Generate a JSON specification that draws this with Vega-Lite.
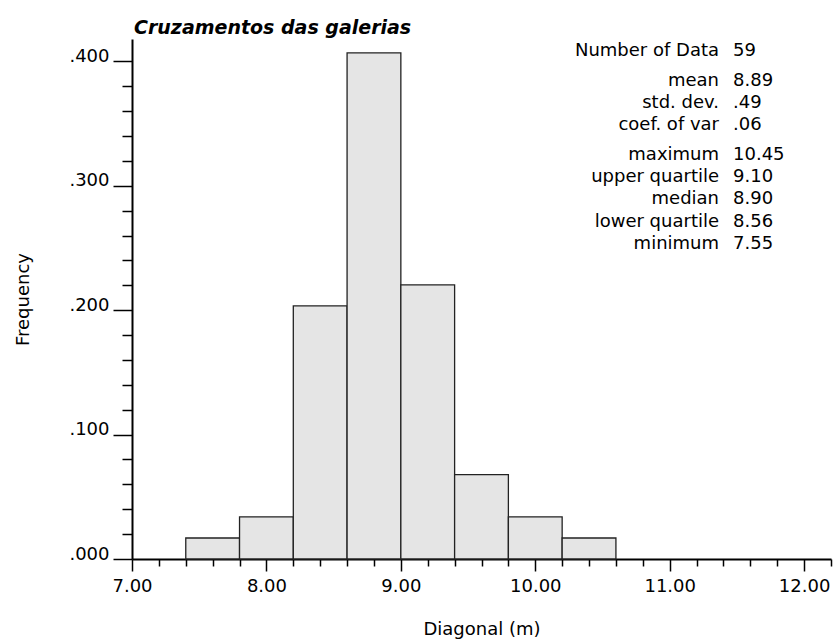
{
  "$schema": "https://vega.github.io/schema/vega-lite/v6.json",
  "autosize": "none",
  "width": 699,
  "height": 520,
  "padding": {"left": 132, "top": 39, "right": 2, "bottom": 81},
  "background": "white",
  "config": {
    "view": {"stroke": null},
    "font": "DejaVu Sans",
    "axis": {
      "grid": false,
      "domainColor": "black",
      "tickColor": "black",
      "labelColor": "black",
      "titleColor": "black",
      "labelFont": "DejaVu Sans",
      "titleFont": "DejaVu Sans",
      "labelFontSize": 18,
      "titleFontSize": 18,
      "titleFontWeight": "normal",
      "zindex": 1
    }
  },
  "title": {
    "text": "Cruzamentos das galerias",
    "anchor": "start",
    "frame": "group",
    "font": "DejaVu Sans",
    "fontSize": 19,
    "fontStyle": "italic",
    "fontWeight": "bold",
    "color": "black",
    "baseline": "alphabetic",
    "offset": 6,
    "dx": 2,
    "dy": 20
  },
  "datasets": {
    "bins": [
      {"bin_start": 7.4, "bin_end": 7.8, "frequency": 0.0169},
      {"bin_start": 7.8, "bin_end": 8.2, "frequency": 0.0339},
      {"bin_start": 8.2, "bin_end": 8.6, "frequency": 0.2034},
      {"bin_start": 8.6, "bin_end": 9.0, "frequency": 0.4068},
      {"bin_start": 9.0, "bin_end": 9.4, "frequency": 0.2203},
      {"bin_start": 9.4, "bin_end": 9.8, "frequency": 0.0678},
      {"bin_start": 9.8, "bin_end": 10.2, "frequency": 0.0339},
      {"bin_start": 10.2, "bin_end": 10.6, "frequency": 0.0169}
    ],
    "stats": [
      {"stat": "Number of Data", "value": "59", "group": 1},
      {"stat": "mean", "value": "8.89", "group": 2},
      {"stat": "std. dev.", "value": ".49", "group": 2},
      {"stat": "coef. of var", "value": ".06", "group": 2},
      {"stat": "maximum", "value": "10.45", "group": 3},
      {"stat": "upper quartile", "value": "9.10", "group": 3},
      {"stat": "median", "value": "8.90", "group": 3},
      {"stat": "lower quartile", "value": "8.56", "group": 3},
      {"stat": "minimum", "value": "7.55", "group": 3}
    ]
  },
  "resolve": {
    "scale": {"y": "independent"},
    "axis": {"x": "independent", "y": "independent"}
  },
  "layer": [
    {
      "data": {"name": "bins"},
      "mark": {"type": "bar", "fill": "#e5e5e5", "stroke": "#222222", "strokeWidth": 1.3},
      "encoding": {
        "x": {
          "field": "bin_start",
          "type": "quantitative",
          "scale": {"domain": [7, 12.2], "nice": false, "zero": false},
          "axis": {
            "orient": "bottom",
            "values": [7, 8, 9, 10, 11, 12],
            "format": ".2f",
            "tickSize": 12,
            "tickWidth": 1.5,
            "domainWidth": 2,
            "labelPadding": 6,
            "labelFlush": false,
            "title": "Diagonal (m)",
            "titlePadding": 25
          }
        },
        "x2": {"field": "bin_end"},
        "y": {
          "field": "frequency",
          "type": "quantitative",
          "scale": {"domain": [0, 0.418], "nice": false, "zero": true},
          "axis": {
            "orient": "left",
            "values": [0, 0.1, 0.2, 0.3, 0.4],
            "labelExpr": "substring(format(datum.value, '.3f'), 1)",
            "tickSize": 19,
            "tickWidth": 1.5,
            "domainWidth": 2,
            "labelPadding": 4,
            "labelBaseline": "alphabetic",
            "labelFlush": false,
            "title": "Frequency",
            "titlePadding": 36
          }
        },
        "y2": {"datum": 0}
      }
    },
    {
      "data": {"name": "bins"},
      "mark": {"type": "point", "opacity": 0},
      "encoding": {
        "x": {
          "field": "bin_start",
          "type": "quantitative",
          "scale": {"domain": [7, 12.2], "nice": false, "zero": false},
          "axis": {
            "orient": "bottom",
            "values": [7.2, 7.4, 7.6, 7.8, 8.2, 8.4, 8.6, 8.8, 9.2, 9.4, 9.6, 9.8, 10.2, 10.4, 10.6, 10.8, 11.2, 11.4, 11.6, 11.8, 12.2],
            "tickSize": 7,
            "tickWidth": 1.5,
            "labels": false,
            "domain": false,
            "title": null
          }
        },
        "y": {
          "field": "frequency",
          "type": "quantitative",
          "scale": {"domain": [0, 0.418], "nice": false, "zero": true},
          "axis": {
            "orient": "left",
            "values": [0.02, 0.04, 0.06, 0.08, 0.12, 0.14, 0.16, 0.18, 0.22, 0.24, 0.26, 0.28, 0.32, 0.34, 0.36, 0.38],
            "tickSize": 10,
            "tickWidth": 1.5,
            "labels": false,
            "domain": false,
            "title": null
          }
        }
      }
    },
    {
      "data": {"name": "stats"},
      "mark": {"type": "text", "align": "right", "baseline": "middle", "fontSize": 18, "font": "DejaVu Sans", "color": "black"},
      "encoding": {
        "x": {"datum": 11.367, "type": "quantitative", "axis": null},
        "y": {
          "field": "stat",
          "type": "nominal",
          "sort": null,
          "axis": null,
          "scale": {
            "type": "band",
            "domain": ["Number of Data", "mean", "std. dev.", "coef. of var", "maximum", "upper quartile", "median", "lower quartile", "minimum"],
            "range": [1, 201],
            "paddingInner": 0,
            "paddingOuter": 0
          }
        },
        "yOffset": {"field": "group", "type": "ordinal", "scale": {"type": "point", "range": [11, 26], "padding": 0}},
        "text": {"field": "stat"}
      }
    },
    {
      "data": {"name": "stats"},
      "mark": {"type": "text", "align": "left", "baseline": "middle", "fontSize": 18, "font": "DejaVu Sans", "color": "black"},
      "encoding": {
        "x": {"datum": 11.471, "type": "quantitative", "axis": null},
        "y": {
          "field": "stat",
          "type": "nominal",
          "sort": null,
          "axis": null,
          "scale": {
            "type": "band",
            "domain": ["Number of Data", "mean", "std. dev.", "coef. of var", "maximum", "upper quartile", "median", "lower quartile", "minimum"],
            "range": [1, 201],
            "paddingInner": 0,
            "paddingOuter": 0
          }
        },
        "yOffset": {"field": "group", "type": "ordinal", "scale": {"type": "point", "range": [11, 26], "padding": 0}},
        "text": {"field": "value"}
      }
    }
  ]
}
